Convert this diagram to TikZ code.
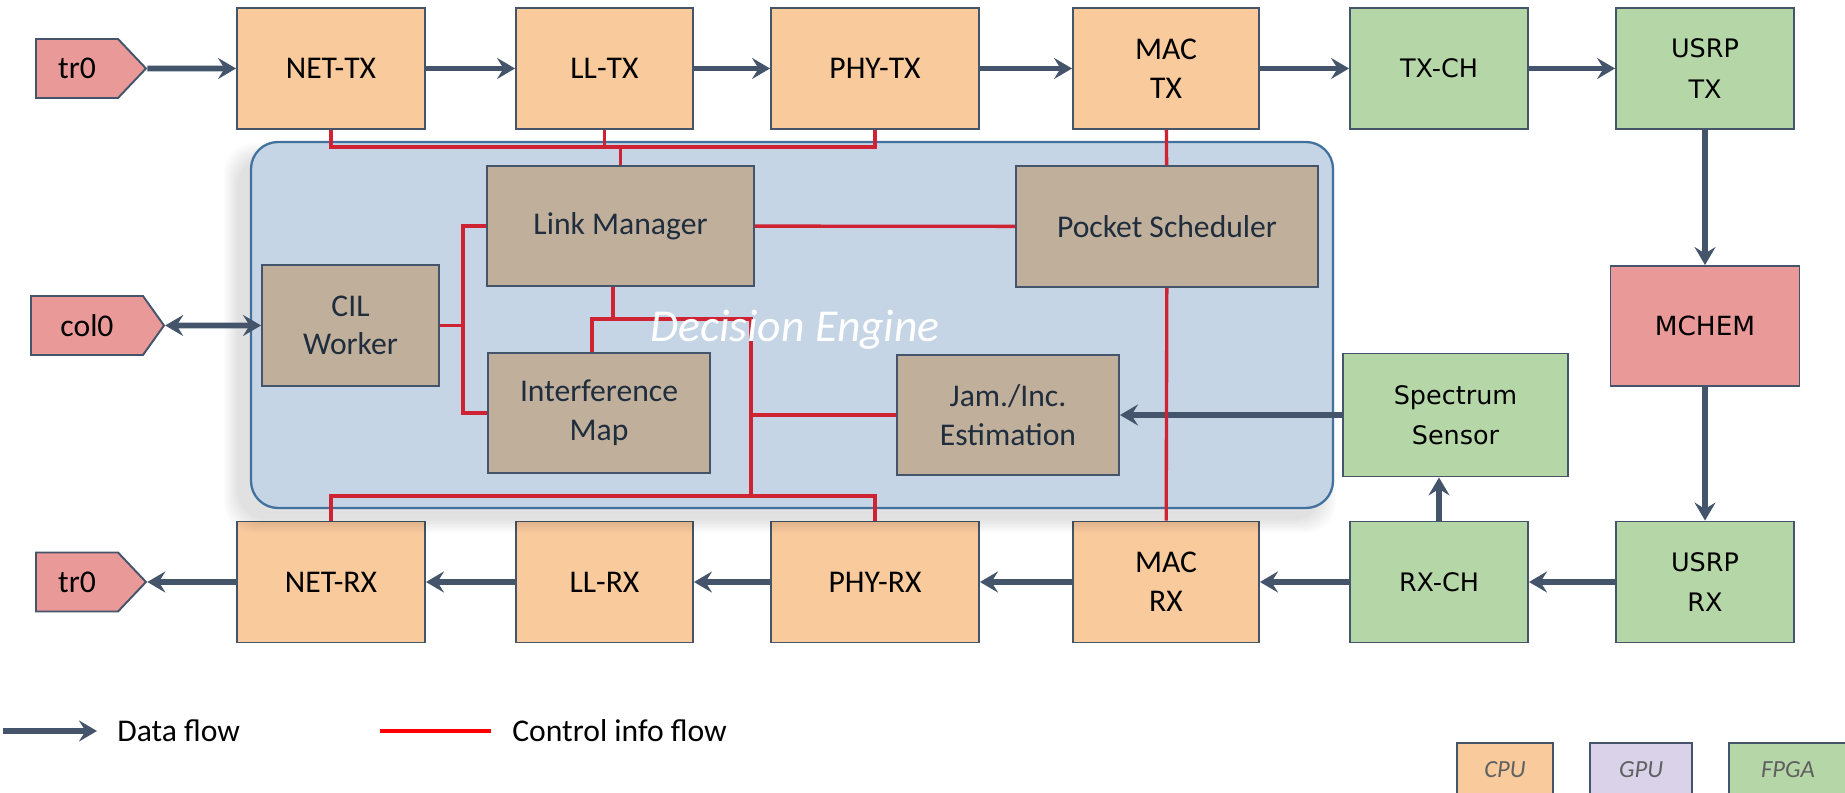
\documentclass[tikz,border=0pt]{standalone}
\usepackage{fontspec}
\setmainfont{Carlito}
\newfontfamily\vfont{DejaVu Sans}
\usetikzlibrary{arrows.meta,shapes.symbols}
\definecolor{Slate}{HTML}{44546A}
\definecolor{CPU}{HTML}{F8CA9C}
\definecolor{FPGA}{HTML}{B5D6A7}
\definecolor{GPU}{HTML}{D9D2E9}
\definecolor{Pink}{HTML}{EA9999}
\definecolor{Tan}{HTML}{C0AF9B}
\definecolor{Ink}{HTML}{1F2D3D}
\definecolor{Grey}{HTML}{606060}
\definecolor{Engine}{HTML}{C5D5E5}
\definecolor{EngineLine}{HTML}{41719C}
\definecolor{Ctrl}{HTML}{CF2233}
\definecolor{Red}{HTML}{FF0000}

\begin{document}
\begin{tikzpicture}[
    >={Stealth[length=3.6mm,width=4.2mm,inset=1.3mm]},
    block/.style={draw=Slate,line width=1.1pt,minimum height=2.42cm,
      inner sep=0pt,align=center,font=\fontsize{18}{22}\selectfont},
    cpu/.style={block,fill=CPU},
    fpga/.style={block,fill=FPGA,font=\vfont\fontsize{14.5}{23}\selectfont},
    unit/.style={block,fill=Tan,text=Ink,minimum height=2.4cm},
    port/.style={signal,signal to=east,draw=Slate,fill=Pink,line width=1.1pt,
      minimum height=1.18cm,inner sep=0pt,font=\fontsize{18}{22}\selectfont},
    data/.style={->,draw=Slate,line width=3.2pt},
    ctrl/.style={draw=Ctrl,line width=1.9pt},
    tag/.style={draw=Slate,line width=1.1pt,minimum height=1.08cm,
      text=Grey,font=\fontsize{14}{16}\selectfont\itshape}
  ]
    \useasboundingbox (0,0) rectangle (36.9,15.86);
    \clip (0,0) rectangle (36.9,15.86);

    % transmit chain
    \node[port,minimum width=2.2cm,signal pointer angle=93] (trin) at (1.54,14.49) {tr0};
    \node[cpu,minimum width=3.76cm] (nettx) at (6.62,14.49) {NET-TX};
    \node[cpu,minimum width=3.54cm] (lltx) at (12.09,14.49) {LL-TX};
    \node[cpu,minimum width=4.16cm] (phytx) at (17.5,14.49) {PHY-TX};
    \node[cpu,minimum width=3.72cm] (mactx) at (23.32,14.49) {MAC\\TX};
    \node[fpga,minimum width=3.56cm] (txch) at (28.78,14.49) {TX-CH};
    \node[fpga,minimum width=3.56cm] (usrptx) at (34.1,14.49) {USRP\\TX};
    \node[block,fill=Pink,font=\vfont\fontsize{15}{18}\selectfont,
      minimum width=3.78cm,minimum height=2.4cm] (mchem) at (34.1,9.34) {MCHEM};
    \node[fpga,minimum width=4.5cm,minimum height=2.46cm] (sensor) at (29.11,7.56) {Spectrum\\Sensor};

    % receive chain
    \node[port,minimum width=2.2cm,signal pointer angle=93] (trout) at (1.54,4.22) {tr0};
    \node[cpu,minimum width=3.76cm] (netrx) at (6.62,4.22) {NET-RX};
    \node[cpu,minimum width=3.54cm] (llrx) at (12.09,4.22) {LL-RX};
    \node[cpu,minimum width=4.16cm] (phyrx) at (17.5,4.22) {PHY-RX};
    \node[cpu,minimum width=3.72cm] (macrx) at (23.32,4.22) {MAC\\RX};
    \node[fpga,minimum width=3.56cm] (rxch) at (28.78,4.22) {RX-CH};
    \node[fpga,minimum width=3.56cm] (usrprx) at (34.1,4.22) {USRP\\RX};

    \node[port,minimum width=2.66cm,signal pointer angle=109] (col) at (1.74,9.35) {col0};

    % decision engine
    \foreach \e in {0.03,0.06,...,0.3}
      \fill[black,opacity=0.011,rounded corners=0.6cm]
        ({4.78-\e},{5.5-\e}) rectangle ({26.42+\e},{12.7+\e});
    \node[draw=EngineLine,fill=Engine,line width=1.3pt,rounded corners=0.54cm,
      minimum width=21.64cm,minimum height=7.32cm] (engine) at (15.84,9.36) {};

    \node[unit,minimum width=5.34cm] (link) at (12.41,11.34) {Link Manager};
    \node[unit,minimum width=6.04cm,minimum height=2.42cm] (sched) at (23.34,11.33) {Pocket Scheduler};
    \node[unit,minimum width=3.54cm,minimum height=2.42cm] (cil) at (7.01,9.35) {CIL\\Worker};
    \node[unit,minimum width=4.44cm] (imap) at (11.98,7.6) {Interference\\Map};
    \node[unit,minimum width=4.44cm] (jam) at (20.16,7.56) {Jam./Inc.\\Estimation};

    % data flow
    \foreach \a/\b in {trin/nettx,nettx/lltx,lltx/phytx,phytx/mactx,mactx/txch,txch/usrptx,
      usrptx/mchem,mchem/usrprx,usrprx/rxch,rxch/macrx,macrx/phyrx,phyrx/llrx,llrx/netrx,
      netrx/trout,sensor/jam}
      \draw[data] (\a) -- (\b);
    \draw[data] (rxch.north) -- (rxch.north |- sensor.south);
    \draw[data,<->] (col) -- (cil);

    % control info
    \coordinate (topbus) at (0,12.92);
    \coordinate (botbus) at (0,5.94);
    \coordinate (midbus) at (15.02,9.48);
    \coordinate (leftbus) at (9.26,0);
    \draw[ctrl] (nettx.south) |- (phytx.south |- topbus) -- (phytx.south);
    \draw[ctrl] (lltx.south) -- (lltx.south |- topbus);
    \draw[ctrl] (link.north) -- (link.north |- topbus);
    \draw[ctrl] (link) -- (sched);
    \draw[ctrl] (mactx) -- (sched);
    \draw[ctrl] (sched) -- (macrx);
    \draw[ctrl] (link.west) -| (leftbus |- imap.west) -- (imap.west);
    \draw[ctrl] (cil.east) -- (leftbus |- cil.east);
    \draw[ctrl] ([xshift=-0.15cm]link.south) |- (midbus);
    \draw[ctrl] ([xshift=-0.14cm]imap.north) |- (midbus) -- (midbus |- botbus);
    \draw[ctrl] (jam.west) -- (midbus |- jam.west);
    \draw[ctrl] (netrx.north) |- (phyrx.north |- botbus) -- (phyrx.north);

    \node[anchor=base,text=white,font=\fontsize{26}{30}\selectfont\itshape]
      (title) at (15.9,9.02) {Decision Engine};

    % legend
    \coordinate (datastart) at (0.06,1.24);
    \coordinate (ctrlstart) at (7.6,1.24);
    \node[anchor=west,inner sep=0pt,font=\fontsize{18}{22}\selectfont] (datalabel) at (2.34,1.24) {Data flow};
    \node[anchor=west,inner sep=0pt,font=\fontsize{18}{22}\selectfont] (ctrllabel) at (10.24,1.24) {Control info flow};
    \draw[data] (datastart) -- ([xshift=-0.4cm]datalabel.west);
    \draw[draw=Red,line width=1.9pt] (ctrlstart) -- ([xshift=-0.42cm]ctrllabel.west);
    \node[tag,fill=CPU,minimum width=1.92cm] (cpukey) at (30.1,0.46) {CPU};
    \node[tag,fill=GPU,minimum width=2.04cm] (gpukey) at (32.82,0.46) {GPU};
    \node[tag,fill=FPGA,minimum width=2.36cm] (fpgakey) at (35.76,0.46) {FPGA};
  \end{tikzpicture}
\end{document}
